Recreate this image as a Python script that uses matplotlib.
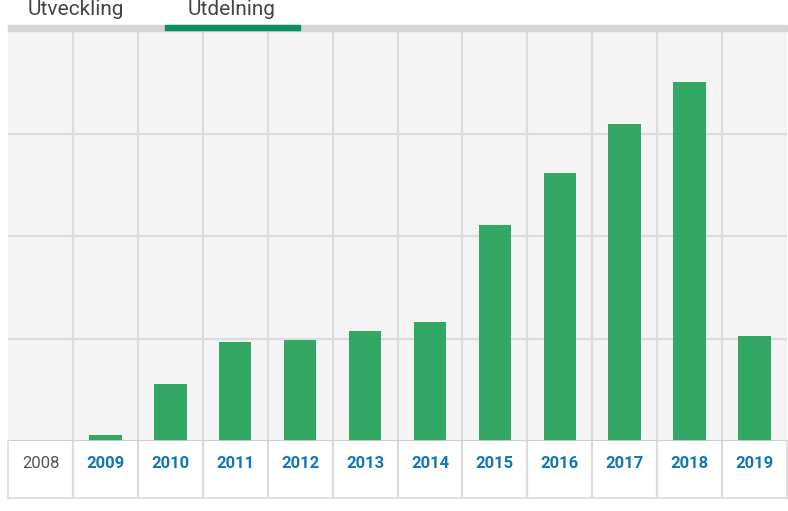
import numpy as np
import matplotlib
matplotlib.use('Agg')
import matplotlib.pyplot as plt

years = ['2008', '2009', '2010', '2011', '2012', '2013', '2014', '2015', '2016', '2017', '2018', '2019']
values = [0.0, 0.06, 0.56, 0.97, 0.99, 1.07, 1.16, 2.11, 2.61, 3.09, 3.50, 1.02]
tabs = ['Utveckling', 'Utdelning']

plt.rcParams['font.family'] = ['Roboto', 'DejaVu Sans']

fig = plt.figure(figsize=(7.88, 5.11), dpi=100)
W, H = 788.0, 511.0

# main plot area
ax = fig.add_axes([8/W, (H-441)/H, 779/W, 410/H])
ax.set_facecolor('#f4f4f4')
x = np.arange(len(years))
ax.bar(x, values, width=0.5, color='#1ea056', alpha=0.9, zorder=3)
ax.set_xlim(-0.5, len(years)-0.5)
ax.set_ylim(0, 4)
for k in range(1, 4):
    ax.axhline(k, color='#dcdcdc', lw=1.6, zorder=1)
for k in range(len(years)-1):
    ax.axvline(k+0.5, color='#dcdcdc', lw=1.6, zorder=1)
ax.axhline(0, color='#c8ccd4', lw=2, zorder=4)
ax.set_xticks([])
ax.set_yticks([])
for s in ax.spines.values():
    s.set_visible(False)

# label row
lab = fig.add_axes([8/W, (H-498)/H, 779/W, 57/H])
lab.set_xlim(-0.5, len(years)-0.5)
lab.set_ylim(0, 1)
for k in range(len(years)-1):
    lab.axvline(k+0.5, color='#dcdcdc', lw=1.6)
for i, y in enumerate(years):
    if i == 0:
        lab.text(i, 0.6, y, ha='center', va='center', fontsize=12, color='#555555')
    else:
        lab.text(i, 0.6, y, ha='center', va='center', fontsize=12,
                 color='#1177b3', fontweight='bold')
lab.set_xticks([])
lab.set_yticks([])
for name, s in lab.spines.items():
    s.set_color('#dcdcdc')
    s.set_linewidth(1.2)
lab.spines['top'].set_visible(False)

# tabs on top
fig.add_artist(plt.Rectangle((8/W, (H-31)/H), 779/W, 6/H, color='#d4d4d4', transform=fig.transFigure))
fig.add_artist(plt.Rectangle((165/W, (H-30)/H), 135/W, 5/H, color='#0a8f66', transform=fig.transFigure))
fig.text(76/W, (H-15)/H, tabs[0], ha='center', va='baseline', fontsize=15, color='#444444')
fig.text(232/W, (H-15)/H, tabs[1], ha='center', va='baseline', fontsize=15, color='#444444')

fig.savefig('out.png', dpi=100)
